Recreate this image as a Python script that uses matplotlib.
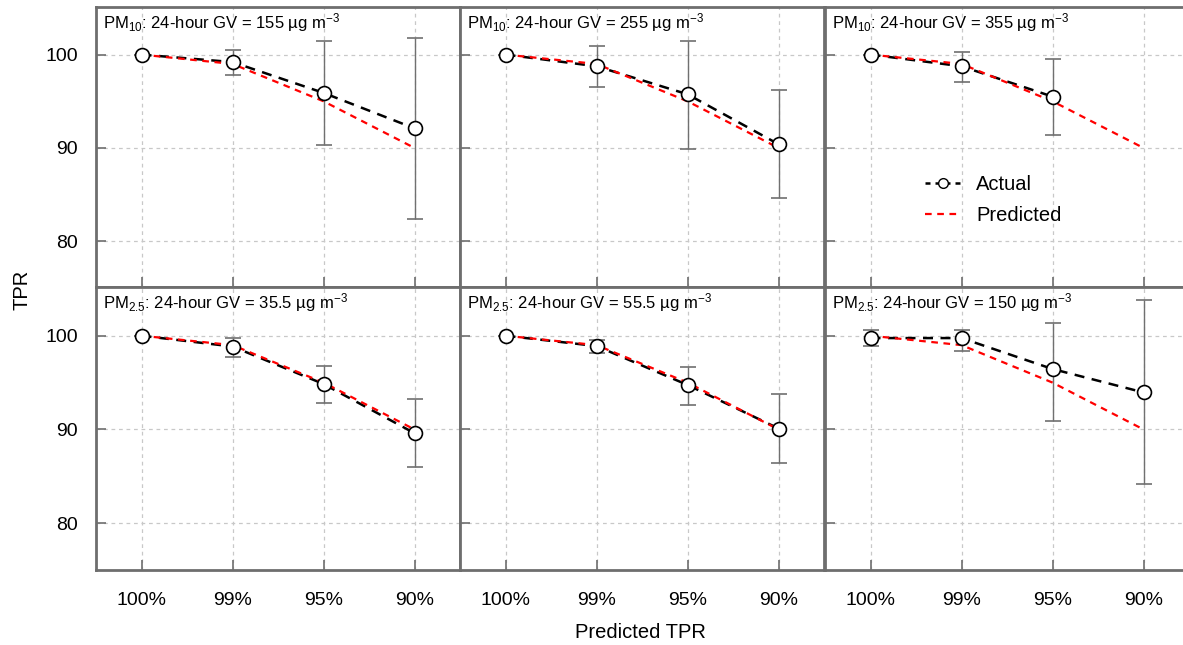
import numpy as np
import matplotlib
matplotlib.use("Agg")
import matplotlib.pyplot as plt
from matplotlib.lines import Line2D

plt.rcParams['font.family'] = ['Liberation Sans', 'DejaVu Sans']
plt.rcParams['mathtext.fontset'] = 'custom'
plt.rcParams['mathtext.rm'] = 'Liberation Sans'
plt.rcParams['mathtext.it'] = 'Liberation Sans:italic'

categories = ["100%", "99%", "95%", "90%"]
predicted = [100, 99, 95, 90]

titles = [
    "PM$_{10}$: 24-hour GV = 155 µg m$^{-3}$",
    "PM$_{10}$: 24-hour GV = 255 µg m$^{-3}$",
    "PM$_{10}$: 24-hour GV = 355 µg m$^{-3}$",
    "PM$_{2.5}$: 24-hour GV = 35.5 µg m$^{-3}$",
    "PM$_{2.5}$: 24-hour GV = 55.5 µg m$^{-3}$",
    "PM$_{2.5}$: 24-hour GV = 150 µg m$^{-3}$",
]

actual_pm10_155 = [100, 99.2, 95.9, 92.1]
low_pm10_155 = [100, 97.8, 90.3, 82.4]
high_pm10_155 = [100, 100.5, 101.5, 101.8]

actual_pm10_255 = [100, 98.75, 95.75, 90.4]
low_pm10_255 = [100, 96.5, 89.9, 84.6]
high_pm10_255 = [100, 100.9, 101.5, 96.2]

actual_pm10_355 = [100, 98.75, 95.5, np.nan]
low_pm10_355 = [100, 97.1, 91.4, np.nan]
high_pm10_355 = [100, 100.3, 99.5, np.nan]

actual_pm25_355 = [100, 98.85, 94.85, 89.6]
low_pm25_355 = [100, 97.7, 92.8, 86.0]
high_pm25_355 = [100, 99.8, 96.8, 93.2]

actual_pm25_555 = [100, 98.9, 94.75, 90.1]
low_pm25_555 = [100, 98.2, 92.65, 86.4]
high_pm25_555 = [100, 99.5, 96.7, 93.75]

actual_pm25_150 = [99.75, 99.75, 96.45, 93.95]
low_pm25_150 = [98.9, 98.4, 90.85, 84.2]
high_pm25_150 = [100.6, 100.6, 101.4, 103.8]

actuals = [actual_pm10_155, actual_pm10_255, actual_pm10_355,
           actual_pm25_355, actual_pm25_555, actual_pm25_150]
lows = [low_pm10_155, low_pm10_255, low_pm10_355,
        low_pm25_355, low_pm25_555, low_pm25_150]
highs = [high_pm10_155, high_pm10_255, high_pm10_355,
         high_pm25_355, high_pm25_555, high_pm25_150]

W, H = 1183, 645
fig = plt.figure(figsize=(W / 100, H / 100), dpi=100)

col_left = [96, 460, 825]
pw = 364
rows = [(7, 287), (287, 570)]
ylims = [(75.1, 105.1), (75.0, 105.2)]
border = "#6e6e6e"

x = np.arange(len(categories))
for i in range(6):
    r, c = divmod(i, 3)
    top, bot = rows[r]
    ax = fig.add_axes([col_left[c] / W, 1 - bot / H, pw / W, (bot - top) / H])
    ax.set_xlim(-0.5, 3.5)
    ax.set_ylim(*ylims[r])
    ax.set_xticks(x)
    ax.set_yticks([80, 90, 100])
    ax.grid(True, color="#c8c8c8", linestyle=(0, (3, 3)), linewidth=0.9)
    ax.set_axisbelow(True)
    for s in ax.spines.values():
        s.set_color(border)
        s.set_linewidth(2)
    ax.tick_params(direction="in", length=7, width=1.2, color=border,
                   labelsize=14)
    ax.tick_params(axis="y", pad=13)
    if c == 0:
        ax.set_yticklabels(["80", "90", "100"])
    else:
        ax.set_yticklabels([])
    if r == 1:
        ax.set_xticklabels(categories)
        ax.tick_params(axis="x", pad=16)
    else:
        ax.set_xticklabels([])

    a = np.array(actuals[i], dtype=float)
    lo = np.array(lows[i], dtype=float)
    hi = np.array(highs[i], dtype=float)
    yerr = np.vstack([a - lo, hi - a])
    ax.errorbar(x, a, yerr=yerr, fmt="none", ecolor="#707070", elinewidth=1.0,
                capsize=6, capthick=1.2, zorder=2)
    ax.plot(x, a, color="black", linestyle=(0, (4, 3)), linewidth=1.8, zorder=3)
    ax.plot(x, predicted, color="#ff0000", linestyle=(0, (3, 2.5)), linewidth=1.6, zorder=4)
    ax.plot(x, a, linestyle="none", marker="o", markersize=10, markerfacecolor="white",
            markeredgecolor="black", markeredgewidth=1.2, zorder=5)
    ax.text(0.02, 0.985, titles[i], transform=ax.transAxes, ha="left", va="top",
            fontsize=12)

    if i == 2:
        handles = [
            Line2D([], [], color="black", linestyle=(0, (2, 2)), linewidth=1.8,
                   marker="o", markersize=7, markerfacecolor="white",
                   markeredgecolor="black"),
            Line2D([], [], color="#ff0000", linestyle=(0, (3, 2.5)), linewidth=1.6),
        ]
        ax.legend(handles, ["Actual", "Predicted"], loc="upper left",
                  bbox_to_anchor=(0.225, 0.466), frameon=False, fontsize=14.5,
                  handlelength=1.75, labelspacing=0.6, handletextpad=0.8)

fig.text(22 / W, 1 - 290 / H, "TPR", rotation=90, ha="center", va="center", fontsize=14.5)
fig.text(640 / W, 1 - 633 / H, "Predicted TPR", ha="center", va="center", fontsize=14.5)

fig.savefig("out.png", dpi=100)
